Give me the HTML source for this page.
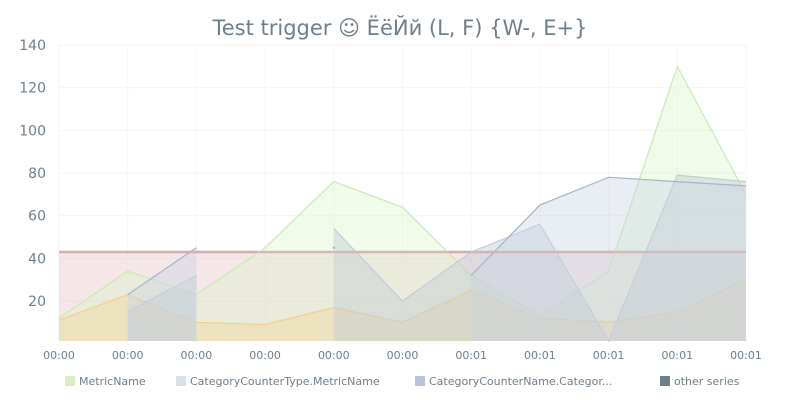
<!DOCTYPE html>
<html><head><meta charset="utf-8"><style>
body{margin:0;background:#fff;font-family:"Liberation Sans","DejaVu Sans",sans-serif}
svg{display:block}
</style></head><body>
<svg id="c" width="800" height="400">
<text x="400" y="35" text-anchor="middle" font-size="21" fill="#6e7f8c" font-family="DejaVu Sans,sans-serif">Test trigger ☺ ЁёЙй (L, F) {W-, E+}</text>
<g id="grid"></g><g id="marks"></g><g id="axes"></g><g id="legend"></g>
</svg>
<script>
const categories=["00:00","00:00","00:00","00:00","00:00","00:00","00:01","00:01","00:01","00:01","00:01"];
const yTicks=[20,40,60,80,100,120,140];
const metricName=[12,34,23,45,76,64,32,13,34,130,70];
const categoryCounterType=[null,15,32,null,54,20,43,56,1,79,76];
const categoryCounterName=[null,23,45,null,45,null,32,65,78,76,74];
const otherOrange=[11,23,10,9,17,10,25,12,10,15,30];
const otherRed=[43,43,43,43,43,43,43,43,43,43,43];
const legendLabels=["MetricName","CategoryCounterType.MetricName","CategoryCounterName.Categor...","other series"];
const NS="http://www.w3.org/2000/svg";
const x0=59,x1=746,yB=341;
const xs=i=>x0+i*(x1-x0)/(categories.length-1);
const ys=v=>Math.min(yB,343.7-2.133*v);
function mk(tag,attrs,parent){const e=document.createElementNS(NS,tag);for(const k in attrs)e.setAttribute(k,attrs[k]);parent.appendChild(e);return e;}
const grid=document.getElementById('grid'),marks=document.getElementById('marks'),axes=document.getElementById('axes'),legend=document.getElementById('legend');
yTicks.forEach(t=>{const l=mk('line',{x1:x0,x2:x1,y1:ys(t),y2:ys(t),stroke:'#f3f3f3'},grid);


const tx=mk('text',{x:46,y:ys(t)+5,'text-anchor':'end','font-size':14,fill:'#6e7f8c','font-family':'DejaVu Sans,sans-serif'},axes);tx.textContent=t;

});
categories.forEach((c,i)=>{const l=mk('line',{x1:xs(i),x2:xs(i),y1:45,y2:yB,stroke:'#f6f6f6'},grid);


const tx=mk('text',{x:xs(i),y:359,'text-anchor':'middle','font-size':11,fill:'#6e7f8c','font-family':'DejaVu Sans,sans-serif'},axes);tx.textContent=c;

});
function series(data,stroke,fill,fo,name,sw){
let segs=[],cur=[];data.forEach((v,i)=>{if(v==null){if(cur.length)segs.push(cur);cur=[];}else cur.push(i);});if(cur.length)segs.push(cur);
segs.forEach(s=>{
if(s.length===1){const d=mk('circle',{cx:xs(s[0]),cy:ys(data[s[0]]),r:1.2,fill:stroke},marks);return;}
const pts=s.map(i=>xs(i)+','+ys(data[i])).join(' ');
const a=mk('polygon',{points:xs(s[0])+','+yB+' '+pts+' '+xs(s[s.length-1])+','+yB,fill:fill,'fill-opacity':fo},marks);


const l=mk('polyline',{points:pts,fill:'none',stroke:stroke,'stroke-width':sw||1.2},marks);

});}
series(otherRed,'#d2a7a9','#e9c7c9',0.45,'threshold',2.5);
series(metricName,'#cbe8b5','#d8f3c4',0.35,'metric-name');
series(otherOrange,'#f3cf86','#efd9a5',0.5,'other-series');
series(categoryCounterType,'#c3ccd6','#c4ccd4',0.45,'category-counter-type');
series(categoryCounterName,'#a6b4cc','#c9d3e3',0.4,'category-counter-name');
const th=mk('line',{x1:x0,x2:x1,y1:ys(otherRed[0]),y2:ys(otherRed[0]),stroke:'#d8b0b0','stroke-width':2,'stroke-opacity':0.7},marks);


const lc=['#d8efc6','#d9e0e8','#b7c4d8','#6e7f8c'],lx=[65,176,415,660];
legendLabels.forEach((t,i)=>{const g=mk('g',{},legend);


mk('rect',{x:lx[i],y:376,width:10,height:10,fill:lc[i]},g);
const tx=mk('text',{x:lx[i]+14,y:385,'font-size':11,fill:'#6e7f8c','font-family':'DejaVu Sans,sans-serif'},g);tx.textContent=t;});
</script>
</body></html>
